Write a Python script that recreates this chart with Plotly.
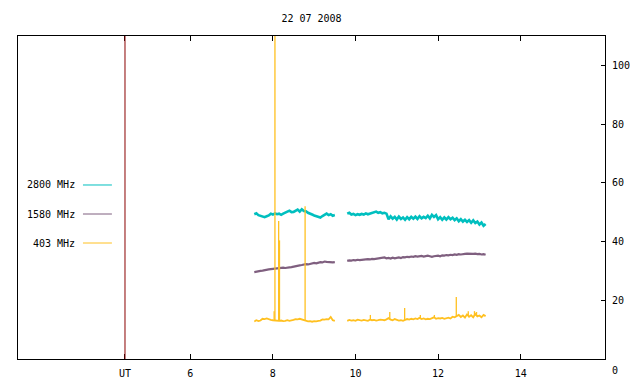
import numpy as np
import plotly.graph_objects as go

# ---------------- data ----------------
title_text = "22 07 2008"
ut_marker = 4.42            # red vertical marker / "UT" tick position (hours)
x_tick_vals = [6, 8, 10, 12, 14]
y_tick_vals = [0, 20, 40, 60, 80, 100]

step_h = 0.05
seg1_start = 7.55
seg2_start = 9.80

# 2800 MHz
f2800_seg1 = [49.3, 49.6, 49.0, 48.8, 48.5, 48.3, 48.6, 48.9, 49.5, 49.2,
              49.6, 49.3, 49.5, 49.1, 49.5, 50.0, 50.2, 50.5, 50.0, 50.1,
              50.6, 50.9, 50.2, 51.0, 50.4, 50.3, 49.8, 49.4, 49.2, 48.9,
              48.6, 48.4, 48.2, 48.7, 49.2, 49.5, 49.0, 49.3, 48.8, 49.0]
f2800_seg2 = [49.5, 49.8, 49.2, 49.4, 49.0, 49.3, 49.1, 49.4, 49.2, 49.6,
              49.3, 49.5, 49.7, 49.9, 50.2, 49.8, 50.0, 49.6, 49.8, 49.5,
              47.6, 48.6, 47.8, 48.4, 47.5, 48.5, 47.7, 48.2, 47.4, 48.3,
              47.6, 48.4, 47.8, 48.5, 47.7, 48.6, 47.9, 48.4, 48.0, 48.8,
              47.9, 49.1, 48.4, 49.0, 47.6, 48.3, 47.4, 48.2, 47.5, 48.3,
              47.6, 48.1, 47.3, 47.9, 46.9, 47.6, 46.8, 47.4, 46.7, 47.3,
              46.4, 47.2, 46.3, 46.8, 45.8, 46.5, 45.4, 46.0]

# 1580 MHz
f1580_seg1 = [29.6, 29.8, 29.9, 30.0, 30.1, 30.3, 30.3, 30.5, 30.6, 30.7,
              30.8, 30.8, 31.0, 31.0, 31.1, 31.0, 31.2, 31.2, 31.3, 31.5,
              31.6, 31.8, 31.9, 32.0, 32.2, 32.3, 32.2, 32.4, 32.5, 32.7,
              32.6, 32.9, 33.0, 32.9, 33.2, 33.1, 33.0, 33.1, 32.9, 33.0]
f1580_seg2 = [33.4, 33.6, 33.5, 33.7, 33.6, 33.8, 33.7, 33.8, 33.9, 33.8,
              34.0, 33.9, 34.1, 34.0, 34.1, 34.3, 34.2, 34.4, 34.6, 34.3,
              34.4, 34.2, 34.5, 34.3, 34.4, 34.6, 34.4, 34.7, 34.6, 34.8,
              34.7, 34.9, 34.8, 35.0, 34.9, 35.0, 35.1, 34.9, 35.0, 35.2,
              35.0, 34.8, 35.0, 35.1, 35.2, 35.0, 35.3, 35.2, 35.4, 35.3,
              35.5, 35.4, 35.6, 35.5, 35.7, 35.6, 35.8, 35.8, 35.9, 35.8,
              35.9, 35.8, 35.9, 35.7, 35.8, 35.6, 35.7, 35.5]

# 403 MHz (baseline)
f403_seg1 = [12.8, 13.2, 12.9, 13.1, 13.7, 13.6, 13.8, 13.5, 13.3, 13.2,
             13.1, 13.2, 13.0, 13.1, 12.9, 13.0, 13.2, 13.0, 13.1, 13.3,
             13.6, 13.5, 13.7, 13.5, 13.4, 13.2, 12.8, 12.9, 12.7, 12.9,
             12.8, 13.0, 13.1, 13.5, 13.4, 13.6, 13.5, 14.3, 13.2, 13.0]
f403_seg2 = [13.0, 13.3, 13.1, 13.2, 13.0, 13.4, 13.2, 13.1, 13.3, 13.2,
             13.0, 13.4, 13.2, 13.3, 13.1, 13.2, 13.4, 13.3, 13.2, 13.5,
             13.9, 13.4, 13.2, 13.6, 13.3, 13.1, 13.2, 13.0, 13.3, 13.6,
             13.4, 13.7, 13.5, 13.8, 13.6, 14.0, 13.6, 13.8, 13.5, 13.7,
             13.6, 13.8, 14.2, 13.7, 13.9, 13.8, 14.0, 13.7, 13.9, 14.1,
             13.8, 14.4, 14.2, 14.6, 15.0, 14.3, 14.8, 14.1, 15.2, 14.4,
             14.9, 14.2, 15.3, 14.5, 14.8, 14.2, 15.0, 14.6]
# 403 MHz bursts (time in hours, peak value)
f403_spike_t = [8.03, 8.05, 8.14, 8.16, 8.78, 10.36, 10.83, 11.19, 11.57,
                11.91, 12.44, 12.73, 12.88, 12.93]
f403_spike_v = [16.3, 140.0, 47.0, 40.4, 52.0, 15.0, 16.0, 17.4, 15.0,
                15.0, 21.1, 16.3, 16.3, 16.0]

series_names = ["2800 MHz", "1580 MHz", "403 MHz"]
series_colors = ["#00BFBF", "#7F5F7F", "#FFC020"]
series_widths = [2.6, 2.2, 1.8]
marker_color = "#8B0000"

# ---------------- build ----------------
def times(start, vals):
    return list(np.round(start + step_h * np.arange(len(vals)), 3))

def join(s1, s2):
    x = times(seg1_start, s1) + [None] + times(seg2_start, s2)
    y = list(s1) + [None] + list(s2)
    return x, y

FONT = "DejaVu Sans Mono"
fig = go.Figure()

for name, col, w, (s1, s2) in zip(series_names, series_colors, series_widths,
                                  [(f2800_seg1, f2800_seg2),
                                   (f1580_seg1, f1580_seg2),
                                   (f403_seg1, f403_seg2)]):
    x, y = join(s1, s2)
    fig.add_trace(go.Scatter(x=x, y=y, mode="lines", name=name,
                             line=dict(color=col, width=w),
                             connectgaps=False, showlegend=False))

# spikes as vertical strokes from local baseline
bx = times(seg1_start, f403_seg1) + times(seg2_start, f403_seg2)
by = list(f403_seg1) + list(f403_seg2)
sx, sy = [], []
for t, v in zip(f403_spike_t, f403_spike_v):
    base = float(np.interp(t, bx, by))
    sx += [t, t, None]
    sy += [base, v, None]
fig.add_trace(go.Scatter(x=sx, y=sy, mode="lines",
                         line=dict(color=series_colors[2], width=1.3),
                         showlegend=False))

# red UT marker line
fig.add_shape(type="line", x0=ut_marker, x1=ut_marker, xref="x",
              y0=0, y1=1, yref="paper",
              line=dict(color=marker_color, width=1))

# gnuplot-style key on the left
key_y = [0.5387, 0.4489, 0.3591]
for name, col, ky in zip(series_names, series_colors, key_y):
    fig.add_annotation(x=0.1, y=ky, xref="paper", yref="paper",
                       text=name, showarrow=False, xanchor="right",
                       yanchor="middle",
                       font=dict(family=FONT, size=10, color="black"))
    fig.add_shape(type="line", xref="paper", yref="paper",
                  x0=0.1107, x1=0.16, y0=ky, y1=ky,
                  line=dict(color=col, width=1))

# lowered "0" label as in the original
fig.add_annotation(x=1, y=0, xref="paper", yref="y", text="0",
                   showarrow=False, xanchor="left", yanchor="middle",
                   xshift=5, yshift=-11,
                   font=dict(family=FONT, size=10, color="black"))

# page body has an 8px default margin, so the figure is sized to fit
fig.update_layout(
    width=632, height=376,
    margin=dict(l=10, r=35, t=28, b=25, autoexpand=False),
    paper_bgcolor="white", plot_bgcolor="white",
    title=dict(text=title_text, x=0.5, xref="paper", xanchor="center",
               y=1 - 10 / 376, yref="container", yanchor="middle",
               font=dict(family=FONT, size=10, color="black")),
    font=dict(family=FONT, size=10, color="black"),
    xaxis=dict(range=[1.83, 16.04], showgrid=False, zeroline=False,
               tickvals=[ut_marker] + x_tick_vals,
               ticktext=["UT"] + [str(v) for v in x_tick_vals],
               ticks="inside", ticklen=5, tickcolor="black",
               showline=True, linecolor="black", linewidth=1,
               mirror="ticks", ticklabelstandoff=5, automargin=False),
    yaxis=dict(range=[0, 110], side="right", showgrid=False,
               zeroline=False, tickvals=y_tick_vals,
               ticktext=[""] + [str(v) for v in y_tick_vals[1:]],
               ticks="inside", ticklen=4, tickcolor="black",
               showline=True, linecolor="black", linewidth=1,
               mirror=True, ticklabelstandoff=4, automargin=False),
)

fig.write_html("out.html")
